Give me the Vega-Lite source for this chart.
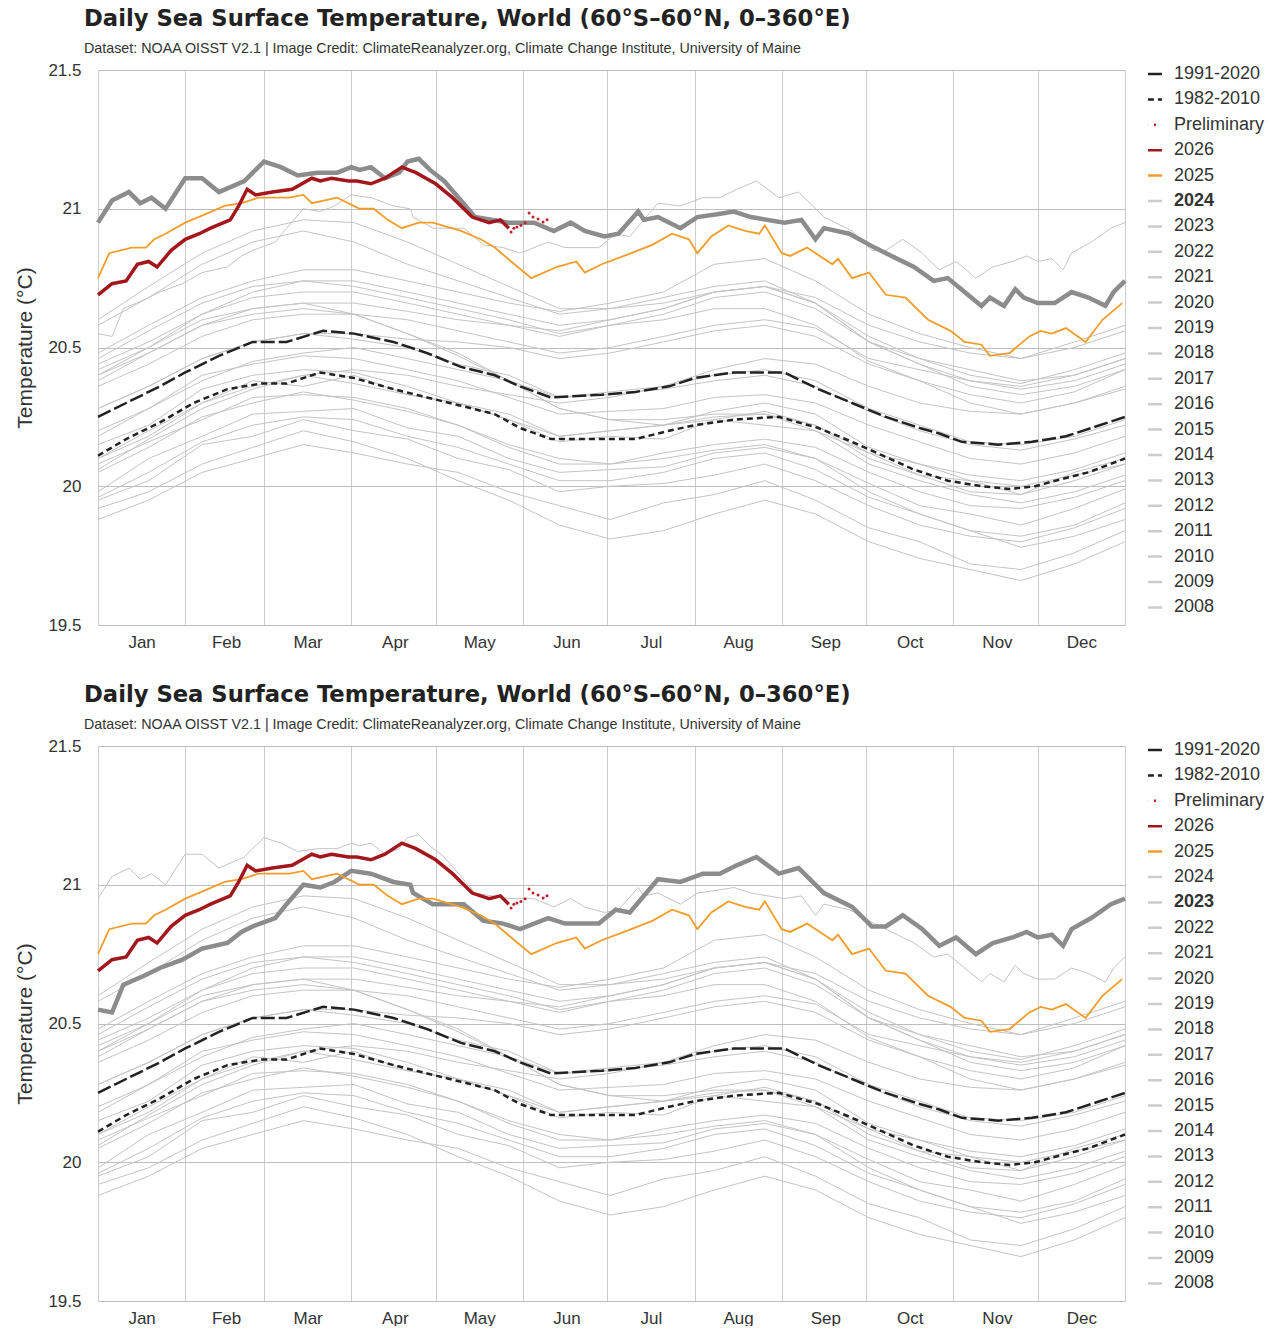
{
"$schema": "https://vega.github.io/schema/vega-lite/v6.json",
"padding": {"left": 14, "top": 8, "right": 0, "bottom": 0},
"background": "white",
"config": {"view": {"stroke": null}, "font": "Liberation Sans"},
"datasets": {
"sst": [
{"s":"1982","d":0,"t":19.88},{"s":"1982","d":18,"t":19.95},{"s":"1982","d":37,"t":20.05},{"s":"1982","d":55,"t":20.10},{"s":"1982","d":73,"t":20.15},{"s":"1982","d":91,"t":20.12},{"s":"1982","d":110,"t":20.08},{"s":"1982","d":128,"t":20.05},{"s":"1982","d":146,"t":19.98},{"s":"1982","d":164,"t":19.93},{"s":"1982","d":182,"t":19.88},{"s":"1982","d":201,"t":19.94},{"s":"1982","d":219,"t":19.97},{"s":"1982","d":237,"t":20.02},{"s":"1982","d":255,"t":19.95},{"s":"1982","d":274,"t":19.85},{"s":"1982","d":292,"t":19.80},{"s":"1982","d":310,"t":19.72},{"s":"1982","d":328,"t":19.70},{"s":"1982","d":347,"t":19.76},{"s":"1982","d":365,"t":19.84},
{"s":"1984","d":0,"t":19.95},{"s":"1984","d":18,"t":20.02},{"s":"1984","d":37,"t":20.15},{"s":"1984","d":55,"t":20.18},{"s":"1984","d":73,"t":20.24},{"s":"1984","d":91,"t":20.20},{"s":"1984","d":110,"t":20.17},{"s":"1984","d":128,"t":20.10},{"s":"1984","d":146,"t":20.06},{"s":"1984","d":164,"t":19.98},{"s":"1984","d":182,"t":20.00},{"s":"1984","d":201,"t":20.01},{"s":"1984","d":219,"t":20.04},{"s":"1984","d":237,"t":20.08},{"s":"1984","d":255,"t":20.02},{"s":"1984","d":274,"t":19.93},{"s":"1984","d":292,"t":19.86},{"s":"1984","d":310,"t":19.82},{"s":"1984","d":328,"t":19.80},{"s":"1984","d":347,"t":19.85},{"s":"1984","d":365,"t":19.92},
{"s":"1985","d":0,"t":19.92},{"s":"1985","d":18,"t":19.98},{"s":"1985","d":37,"t":20.08},{"s":"1985","d":55,"t":20.14},{"s":"1985","d":73,"t":20.20},{"s":"1985","d":91,"t":20.16},{"s":"1985","d":110,"t":20.10},{"s":"1985","d":128,"t":20.02},{"s":"1985","d":146,"t":19.95},{"s":"1985","d":164,"t":19.86},{"s":"1985","d":182,"t":19.81},{"s":"1985","d":201,"t":19.84},{"s":"1985","d":219,"t":19.90},{"s":"1985","d":237,"t":19.95},{"s":"1985","d":255,"t":19.90},{"s":"1985","d":274,"t":19.80},{"s":"1985","d":292,"t":19.74},{"s":"1985","d":310,"t":19.70},{"s":"1985","d":328,"t":19.66},{"s":"1985","d":347,"t":19.72},{"s":"1985","d":365,"t":19.80},
{"s":"1986","d":0,"t":19.98},{"s":"1986","d":18,"t":20.10},{"s":"1986","d":37,"t":20.18},{"s":"1986","d":55,"t":20.26},{"s":"1986","d":73,"t":20.27},{"s":"1986","d":91,"t":20.28},{"s":"1986","d":110,"t":20.21},{"s":"1986","d":128,"t":20.18},{"s":"1986","d":146,"t":20.10},{"s":"1986","d":164,"t":20.05},{"s":"1986","d":182,"t":20.06},{"s":"1986","d":201,"t":20.07},{"s":"1986","d":219,"t":20.12},{"s":"1986","d":237,"t":20.14},{"s":"1986","d":255,"t":20.10},{"s":"1986","d":274,"t":20.01},{"s":"1986","d":292,"t":19.93},{"s":"1986","d":310,"t":19.90},{"s":"1986","d":328,"t":19.86},{"s":"1986","d":347,"t":19.92},{"s":"1986","d":365,"t":19.99},
{"s":"1988","d":0,"t":20.05},{"s":"1988","d":18,"t":20.14},{"s":"1988","d":37,"t":20.25},{"s":"1988","d":55,"t":20.30},{"s":"1988","d":73,"t":20.34},{"s":"1988","d":91,"t":20.31},{"s":"1988","d":110,"t":20.27},{"s":"1988","d":128,"t":20.22},{"s":"1988","d":146,"t":20.14},{"s":"1988","d":164,"t":20.08},{"s":"1988","d":182,"t":20.08},{"s":"1988","d":201,"t":20.10},{"s":"1988","d":219,"t":20.13},{"s":"1988","d":237,"t":20.15},{"s":"1988","d":255,"t":20.10},{"s":"1988","d":274,"t":19.98},{"s":"1988","d":292,"t":19.90},{"s":"1988","d":310,"t":19.84},{"s":"1988","d":328,"t":19.78},{"s":"1988","d":347,"t":19.82},{"s":"1988","d":365,"t":19.88},
{"s":"1989","d":0,"t":19.96},{"s":"1989","d":18,"t":20.05},{"s":"1989","d":37,"t":20.16},{"s":"1989","d":55,"t":20.22},{"s":"1989","d":73,"t":20.25},{"s":"1989","d":91,"t":20.24},{"s":"1989","d":110,"t":20.18},{"s":"1989","d":128,"t":20.14},{"s":"1989","d":146,"t":20.08},{"s":"1989","d":164,"t":20.02},{"s":"1989","d":182,"t":20.02},{"s":"1989","d":201,"t":20.05},{"s":"1989","d":219,"t":20.10},{"s":"1989","d":237,"t":20.12},{"s":"1989","d":255,"t":20.06},{"s":"1989","d":274,"t":19.96},{"s":"1989","d":292,"t":19.90},{"s":"1989","d":310,"t":19.84},{"s":"1989","d":328,"t":19.82},{"s":"1989","d":347,"t":19.86},{"s":"1989","d":365,"t":19.94},
{"s":"1990","d":0,"t":20.10},{"s":"1990","d":18,"t":20.20},{"s":"1990","d":37,"t":20.30},{"s":"1990","d":55,"t":20.38},{"s":"1990","d":73,"t":20.36},{"s":"1990","d":91,"t":20.40},{"s":"1990","d":110,"t":20.33},{"s":"1990","d":128,"t":20.30},{"s":"1990","d":146,"t":20.24},{"s":"1990","d":164,"t":20.16},{"s":"1990","d":182,"t":20.18},{"s":"1990","d":201,"t":20.17},{"s":"1990","d":219,"t":20.24},{"s":"1990","d":237,"t":20.22},{"s":"1990","d":255,"t":20.20},{"s":"1990","d":274,"t":20.12},{"s":"1990","d":292,"t":20.04},{"s":"1990","d":310,"t":20.02},{"s":"1990","d":328,"t":19.97},{"s":"1990","d":347,"t":20.05},{"s":"1990","d":365,"t":20.10},
{"s":"1992","d":0,"t":20.08},{"s":"1992","d":18,"t":20.16},{"s":"1992","d":37,"t":20.24},{"s":"1992","d":55,"t":20.32},{"s":"1992","d":73,"t":20.33},{"s":"1992","d":91,"t":20.32},{"s":"1992","d":110,"t":20.28},{"s":"1992","d":128,"t":20.22},{"s":"1992","d":146,"t":20.15},{"s":"1992","d":164,"t":20.10},{"s":"1992","d":182,"t":20.08},{"s":"1992","d":201,"t":20.12},{"s":"1992","d":219,"t":20.15},{"s":"1992","d":237,"t":20.17},{"s":"1992","d":255,"t":20.14},{"s":"1992","d":274,"t":20.05},{"s":"1992","d":292,"t":19.98},{"s":"1992","d":310,"t":19.93},{"s":"1992","d":328,"t":19.92},{"s":"1992","d":347,"t":19.96},{"s":"1992","d":365,"t":20.02},
{"s":"1995","d":0,"t":20.15},{"s":"1995","d":18,"t":20.22},{"s":"1995","d":37,"t":20.35},{"s":"1995","d":55,"t":20.40},{"s":"1995","d":73,"t":20.42},{"s":"1995","d":91,"t":20.41},{"s":"1995","d":110,"t":20.36},{"s":"1995","d":128,"t":20.30},{"s":"1995","d":146,"t":20.26},{"s":"1995","d":164,"t":20.18},{"s":"1995","d":182,"t":20.20},{"s":"1995","d":201,"t":20.22},{"s":"1995","d":219,"t":20.24},{"s":"1995","d":237,"t":20.27},{"s":"1995","d":255,"t":20.22},{"s":"1995","d":274,"t":20.12},{"s":"1995","d":292,"t":20.08},{"s":"1995","d":310,"t":20.02},{"s":"1995","d":328,"t":20.00},{"s":"1995","d":347,"t":20.04},{"s":"1995","d":365,"t":20.08},
{"s":"1997","d":0,"t":20.10},{"s":"1997","d":18,"t":20.18},{"s":"1997","d":37,"t":20.30},{"s":"1997","d":55,"t":20.36},{"s":"1997","d":73,"t":20.40},{"s":"1997","d":91,"t":20.42},{"s":"1997","d":110,"t":20.40},{"s":"1997","d":128,"t":20.36},{"s":"1997","d":146,"t":20.33},{"s":"1997","d":164,"t":20.30},{"s":"1997","d":182,"t":20.32},{"s":"1997","d":201,"t":20.36},{"s":"1997","d":219,"t":20.42},{"s":"1997","d":237,"t":20.46},{"s":"1997","d":255,"t":20.44},{"s":"1997","d":274,"t":20.36},{"s":"1997","d":292,"t":20.30},{"s":"1997","d":310,"t":20.27},{"s":"1997","d":328,"t":20.26},{"s":"1997","d":347,"t":20.30},{"s":"1997","d":365,"t":20.35},
{"s":"1998","d":0,"t":20.38},{"s":"1998","d":18,"t":20.48},{"s":"1998","d":37,"t":20.58},{"s":"1998","d":55,"t":20.62},{"s":"1998","d":73,"t":20.64},{"s":"1998","d":91,"t":20.62},{"s":"1998","d":110,"t":20.55},{"s":"1998","d":128,"t":20.47},{"s":"1998","d":146,"t":20.38},{"s":"1998","d":164,"t":20.28},{"s":"1998","d":182,"t":20.24},{"s":"1998","d":201,"t":20.24},{"s":"1998","d":219,"t":20.26},{"s":"1998","d":237,"t":20.26},{"s":"1998","d":255,"t":20.20},{"s":"1998","d":274,"t":20.08},{"s":"1998","d":292,"t":20.02},{"s":"1998","d":310,"t":19.97},{"s":"1998","d":328,"t":19.94},{"s":"1998","d":347,"t":19.98},{"s":"1998","d":365,"t":20.04},
{"s":"2001","d":0,"t":20.18},{"s":"2001","d":18,"t":20.28},{"s":"2001","d":37,"t":20.40},{"s":"2001","d":55,"t":20.44},{"s":"2001","d":73,"t":20.47},{"s":"2001","d":91,"t":20.46},{"s":"2001","d":110,"t":20.42},{"s":"2001","d":128,"t":20.38},{"s":"2001","d":146,"t":20.32},{"s":"2001","d":164,"t":20.26},{"s":"2001","d":182,"t":20.27},{"s":"2001","d":201,"t":20.28},{"s":"2001","d":219,"t":20.32},{"s":"2001","d":237,"t":20.33},{"s":"2001","d":255,"t":20.30},{"s":"2001","d":274,"t":20.22},{"s":"2001","d":292,"t":20.16},{"s":"2001","d":310,"t":20.10},{"s":"2001","d":328,"t":20.08},{"s":"2001","d":347,"t":20.12},{"s":"2001","d":365,"t":20.18},
{"s":"2005","d":0,"t":20.28},{"s":"2005","d":18,"t":20.36},{"s":"2005","d":37,"t":20.46},{"s":"2005","d":55,"t":20.52},{"s":"2005","d":73,"t":20.55},{"s":"2005","d":91,"t":20.53},{"s":"2005","d":110,"t":20.50},{"s":"2005","d":128,"t":20.44},{"s":"2005","d":146,"t":20.40},{"s":"2005","d":164,"t":20.32},{"s":"2005","d":182,"t":20.33},{"s":"2005","d":201,"t":20.35},{"s":"2005","d":219,"t":20.38},{"s":"2005","d":237,"t":20.40},{"s":"2005","d":255,"t":20.36},{"s":"2005","d":274,"t":20.27},{"s":"2005","d":292,"t":20.20},{"s":"2005","d":310,"t":20.15},{"s":"2005","d":328,"t":20.13},{"s":"2005","d":347,"t":20.17},{"s":"2005","d":365,"t":20.22},
{"s":"2008","d":0,"t":20.06},{"s":"2008","d":18,"t":20.17},{"s":"2008","d":37,"t":20.28},{"s":"2008","d":55,"t":20.35},{"s":"2008","d":73,"t":20.40},{"s":"2008","d":91,"t":20.37},{"s":"2008","d":110,"t":20.33},{"s":"2008","d":128,"t":20.30},{"s":"2008","d":146,"t":20.24},{"s":"2008","d":164,"t":20.18},{"s":"2008","d":182,"t":20.20},{"s":"2008","d":201,"t":20.22},{"s":"2008","d":219,"t":20.27},{"s":"2008","d":237,"t":20.30},{"s":"2008","d":255,"t":20.26},{"s":"2008","d":274,"t":20.14},{"s":"2008","d":292,"t":20.08},{"s":"2008","d":310,"t":20.04},{"s":"2008","d":328,"t":20.02},{"s":"2008","d":347,"t":20.06},{"s":"2008","d":365,"t":20.12},
{"s":"2010","d":0,"t":20.42},{"s":"2010","d":18,"t":20.50},{"s":"2010","d":37,"t":20.60},{"s":"2010","d":55,"t":20.64},{"s":"2010","d":73,"t":20.66},{"s":"2010","d":91,"t":20.62},{"s":"2010","d":110,"t":20.55},{"s":"2010","d":128,"t":20.48},{"s":"2010","d":146,"t":20.38},{"s":"2010","d":164,"t":20.28},{"s":"2010","d":182,"t":20.24},{"s":"2010","d":201,"t":20.22},{"s":"2010","d":219,"t":20.25},{"s":"2010","d":237,"t":20.26},{"s":"2010","d":255,"t":20.22},{"s":"2010","d":274,"t":20.10},{"s":"2010","d":292,"t":20.04},{"s":"2010","d":310,"t":19.98},{"s":"2010","d":328,"t":19.97},{"s":"2010","d":347,"t":20.02},{"s":"2010","d":365,"t":20.08},
{"s":"2012","d":0,"t":20.20},{"s":"2012","d":18,"t":20.28},{"s":"2012","d":37,"t":20.38},{"s":"2012","d":55,"t":20.45},{"s":"2012","d":73,"t":20.48},{"s":"2012","d":91,"t":20.50},{"s":"2012","d":110,"t":20.46},{"s":"2012","d":128,"t":20.42},{"s":"2012","d":146,"t":20.38},{"s":"2012","d":164,"t":20.32},{"s":"2012","d":182,"t":20.34},{"s":"2012","d":201,"t":20.36},{"s":"2012","d":219,"t":20.40},{"s":"2012","d":237,"t":20.42},{"s":"2012","d":255,"t":20.38},{"s":"2012","d":274,"t":20.28},{"s":"2012","d":292,"t":20.22},{"s":"2012","d":310,"t":20.16},{"s":"2012","d":328,"t":20.15},{"s":"2012","d":347,"t":20.18},{"s":"2012","d":365,"t":20.24},
{"s":"2014","d":0,"t":20.28},{"s":"2014","d":18,"t":20.36},{"s":"2014","d":37,"t":20.46},{"s":"2014","d":55,"t":20.52},{"s":"2014","d":73,"t":20.55},{"s":"2014","d":91,"t":20.55},{"s":"2014","d":110,"t":20.53},{"s":"2014","d":128,"t":20.52},{"s":"2014","d":146,"t":20.50},{"s":"2014","d":164,"t":20.46},{"s":"2014","d":182,"t":20.48},{"s":"2014","d":201,"t":20.52},{"s":"2014","d":219,"t":20.56},{"s":"2014","d":237,"t":20.58},{"s":"2014","d":255,"t":20.54},{"s":"2014","d":274,"t":20.44},{"s":"2014","d":292,"t":20.38},{"s":"2014","d":310,"t":20.33},{"s":"2014","d":328,"t":20.30},{"s":"2014","d":347,"t":20.34},{"s":"2014","d":365,"t":20.42},
{"s":"2015","d":0,"t":20.40},{"s":"2015","d":18,"t":20.48},{"s":"2015","d":37,"t":20.58},{"s":"2015","d":55,"t":20.64},{"s":"2015","d":73,"t":20.66},{"s":"2015","d":91,"t":20.66},{"s":"2015","d":110,"t":20.63},{"s":"2015","d":128,"t":20.60},{"s":"2015","d":146,"t":20.58},{"s":"2015","d":164,"t":20.56},{"s":"2015","d":182,"t":20.60},{"s":"2015","d":201,"t":20.64},{"s":"2015","d":219,"t":20.70},{"s":"2015","d":237,"t":20.72},{"s":"2015","d":255,"t":20.68},{"s":"2015","d":274,"t":20.58},{"s":"2015","d":292,"t":20.52},{"s":"2015","d":310,"t":20.48},{"s":"2015","d":328,"t":20.46},{"s":"2015","d":347,"t":20.52},{"s":"2015","d":365,"t":20.58},
{"s":"2016","d":0,"t":20.60},{"s":"2016","d":18,"t":20.72},{"s":"2016","d":37,"t":20.84},{"s":"2016","d":55,"t":20.92},{"s":"2016","d":73,"t":20.96},{"s":"2016","d":91,"t":20.95},{"s":"2016","d":110,"t":20.88},{"s":"2016","d":128,"t":20.80},{"s":"2016","d":146,"t":20.72},{"s":"2016","d":164,"t":20.64},{"s":"2016","d":182,"t":20.64},{"s":"2016","d":201,"t":20.66},{"s":"2016","d":219,"t":20.70},{"s":"2016","d":237,"t":20.72},{"s":"2016","d":255,"t":20.66},{"s":"2016","d":274,"t":20.52},{"s":"2016","d":292,"t":20.44},{"s":"2016","d":310,"t":20.36},{"s":"2016","d":328,"t":20.33},{"s":"2016","d":347,"t":20.36},{"s":"2016","d":365,"t":20.42},
{"s":"2017","d":0,"t":20.44},{"s":"2017","d":18,"t":20.52},{"s":"2017","d":37,"t":20.62},{"s":"2017","d":55,"t":20.70},{"s":"2017","d":73,"t":20.74},{"s":"2017","d":91,"t":20.72},{"s":"2017","d":110,"t":20.68},{"s":"2017","d":128,"t":20.64},{"s":"2017","d":146,"t":20.60},{"s":"2017","d":164,"t":20.55},{"s":"2017","d":182,"t":20.58},{"s":"2017","d":201,"t":20.60},{"s":"2017","d":219,"t":20.64},{"s":"2017","d":237,"t":20.64},{"s":"2017","d":255,"t":20.58},{"s":"2017","d":274,"t":20.45},{"s":"2017","d":292,"t":20.38},{"s":"2017","d":310,"t":20.30},{"s":"2017","d":328,"t":20.26},{"s":"2017","d":347,"t":20.30},{"s":"2017","d":365,"t":20.36},
{"s":"2018","d":0,"t":20.36},{"s":"2018","d":18,"t":20.44},{"s":"2018","d":37,"t":20.54},{"s":"2018","d":55,"t":20.60},{"s":"2018","d":73,"t":20.62},{"s":"2018","d":91,"t":20.62},{"s":"2018","d":110,"t":20.60},{"s":"2018","d":128,"t":20.56},{"s":"2018","d":146,"t":20.52},{"s":"2018","d":164,"t":20.48},{"s":"2018","d":182,"t":20.50},{"s":"2018","d":201,"t":20.54},{"s":"2018","d":219,"t":20.58},{"s":"2018","d":237,"t":20.60},{"s":"2018","d":255,"t":20.57},{"s":"2018","d":274,"t":20.46},{"s":"2018","d":292,"t":20.42},{"s":"2018","d":310,"t":20.38},{"s":"2018","d":328,"t":20.36},{"s":"2018","d":347,"t":20.40},{"s":"2018","d":365,"t":20.46},
{"s":"2019","d":0,"t":20.48},{"s":"2019","d":18,"t":20.58},{"s":"2019","d":37,"t":20.68},{"s":"2019","d":55,"t":20.74},{"s":"2019","d":73,"t":20.78},{"s":"2019","d":91,"t":20.78},{"s":"2019","d":110,"t":20.74},{"s":"2019","d":128,"t":20.70},{"s":"2019","d":146,"t":20.66},{"s":"2019","d":164,"t":20.63},{"s":"2019","d":182,"t":20.66},{"s":"2019","d":201,"t":20.70},{"s":"2019","d":219,"t":20.80},{"s":"2019","d":237,"t":20.82},{"s":"2019","d":255,"t":20.74},{"s":"2019","d":274,"t":20.62},{"s":"2019","d":292,"t":20.55},{"s":"2019","d":310,"t":20.50},{"s":"2019","d":328,"t":20.46},{"s":"2019","d":347,"t":20.50},{"s":"2019","d":365,"t":20.56},
{"s":"2020","d":0,"t":20.58},{"s":"2020","d":18,"t":20.68},{"s":"2020","d":37,"t":20.80},{"s":"2020","d":55,"t":20.88},{"s":"2020","d":73,"t":20.92},{"s":"2020","d":91,"t":20.88},{"s":"2020","d":110,"t":20.80},{"s":"2020","d":128,"t":20.74},{"s":"2020","d":146,"t":20.68},{"s":"2020","d":164,"t":20.62},{"s":"2020","d":182,"t":20.64},{"s":"2020","d":201,"t":20.68},{"s":"2020","d":219,"t":20.72},{"s":"2020","d":237,"t":20.74},{"s":"2020","d":255,"t":20.66},{"s":"2020","d":274,"t":20.52},{"s":"2020","d":292,"t":20.44},{"s":"2020","d":310,"t":20.38},{"s":"2020","d":328,"t":20.35},{"s":"2020","d":347,"t":20.38},{"s":"2020","d":365,"t":20.44},
{"s":"2021","d":0,"t":20.40},{"s":"2021","d":18,"t":20.50},{"s":"2021","d":37,"t":20.62},{"s":"2021","d":55,"t":20.68},{"s":"2021","d":73,"t":20.70},{"s":"2021","d":91,"t":20.70},{"s":"2021","d":110,"t":20.66},{"s":"2021","d":128,"t":20.62},{"s":"2021","d":146,"t":20.58},{"s":"2021","d":164,"t":20.54},{"s":"2021","d":182,"t":20.58},{"s":"2021","d":201,"t":20.62},{"s":"2021","d":219,"t":20.68},{"s":"2021","d":237,"t":20.70},{"s":"2021","d":255,"t":20.64},{"s":"2021","d":274,"t":20.52},{"s":"2021","d":292,"t":20.46},{"s":"2021","d":310,"t":20.40},{"s":"2021","d":328,"t":20.37},{"s":"2021","d":347,"t":20.42},{"s":"2021","d":365,"t":20.48},
{"s":"2022","d":0,"t":20.46},{"s":"2022","d":18,"t":20.56},{"s":"2022","d":37,"t":20.66},{"s":"2022","d":55,"t":20.72},{"s":"2022","d":73,"t":20.74},{"s":"2022","d":91,"t":20.74},{"s":"2022","d":110,"t":20.70},{"s":"2022","d":128,"t":20.66},{"s":"2022","d":146,"t":20.62},{"s":"2022","d":164,"t":20.58},{"s":"2022","d":182,"t":20.60},{"s":"2022","d":201,"t":20.64},{"s":"2022","d":219,"t":20.70},{"s":"2022","d":237,"t":20.72},{"s":"2022","d":255,"t":20.66},{"s":"2022","d":274,"t":20.54},{"s":"2022","d":292,"t":20.46},{"s":"2022","d":310,"t":20.42},{"s":"2022","d":328,"t":20.38},{"s":"2022","d":347,"t":20.40},{"s":"2022","d":365,"t":20.46},
{"s":"2023","d":0,"t":20.55},{"s":"2023","d":5,"t":20.54},{"s":"2023","d":9,"t":20.64},{"s":"2023","d":16,"t":20.67},{"s":"2023","d":22,"t":20.70},{"s":"2023","d":30,"t":20.73},{"s":"2023","d":37,"t":20.77},{"s":"2023","d":46,"t":20.79},{"s":"2023","d":51,"t":20.83},{"s":"2023","d":55,"t":20.85},{"s":"2023","d":63,"t":20.88},{"s":"2023","d":67,"t":20.93},{"s":"2023","d":73,"t":21.00},{"s":"2023","d":79,"t":20.99},{"s":"2023","d":84,"t":21.01},{"s":"2023","d":90,"t":21.05},{"s":"2023","d":97,"t":21.04},{"s":"2023","d":105,"t":21.01},{"s":"2023","d":111,"t":21.00},{"s":"2023","d":112,"t":20.97},{"s":"2023","d":119,"t":20.93},{"s":"2023","d":130,"t":20.93},{"s":"2023","d":137,"t":20.87},{"s":"2023","d":144,"t":20.86},{"s":"2023","d":150,"t":20.84},{"s":"2023","d":160,"t":20.88},{"s":"2023","d":166,"t":20.86},{"s":"2023","d":178,"t":20.86},{"s":"2023","d":184,"t":20.91},{"s":"2023","d":189,"t":20.90},{"s":"2023","d":199,"t":21.02},{"s":"2023","d":207,"t":21.01},{"s":"2023","d":215,"t":21.04},{"s":"2023","d":221,"t":21.04},{"s":"2023","d":227,"t":21.07},{"s":"2023","d":234,"t":21.10},{"s":"2023","d":242,"t":21.04},{"s":"2023","d":249,"t":21.06},{"s":"2023","d":258,"t":20.97},{"s":"2023","d":268,"t":20.92},{"s":"2023","d":275,"t":20.85},{"s":"2023","d":280,"t":20.85},{"s":"2023","d":286,"t":20.89},{"s":"2023","d":293,"t":20.84},{"s":"2023","d":299,"t":20.78},{"s":"2023","d":305,"t":20.81},{"s":"2023","d":312,"t":20.75},{"s":"2023","d":318,"t":20.79},{"s":"2023","d":325,"t":20.81},{"s":"2023","d":330,"t":20.83},{"s":"2023","d":334,"t":20.81},{"s":"2023","d":339,"t":20.82},{"s":"2023","d":343,"t":20.78},{"s":"2023","d":346,"t":20.84},{"s":"2023","d":353,"t":20.88},{"s":"2023","d":360,"t":20.93},{"s":"2023","d":365,"t":20.95},
{"s":"2024","d":0,"t":20.95},{"s":"2024","d":5,"t":21.03},{"s":"2024","d":11,"t":21.06},{"s":"2024","d":15,"t":21.02},{"s":"2024","d":19,"t":21.04},{"s":"2024","d":24,"t":21.00},{"s":"2024","d":31,"t":21.11},{"s":"2024","d":37,"t":21.11},{"s":"2024","d":43,"t":21.06},{"s":"2024","d":52,"t":21.10},{"s":"2024","d":59,"t":21.17},{"s":"2024","d":65,"t":21.15},{"s":"2024","d":71,"t":21.12},{"s":"2024","d":78,"t":21.13},{"s":"2024","d":85,"t":21.13},{"s":"2024","d":90,"t":21.15},{"s":"2024","d":93,"t":21.14},{"s":"2024","d":97,"t":21.15},{"s":"2024","d":102,"t":21.11},{"s":"2024","d":107,"t":21.13},{"s":"2024","d":110,"t":21.17},{"s":"2024","d":114,"t":21.18},{"s":"2024","d":118,"t":21.14},{"s":"2024","d":123,"t":21.10},{"s":"2024","d":129,"t":21.03},{"s":"2024","d":134,"t":20.97},{"s":"2024","d":146,"t":20.95},{"s":"2024","d":155,"t":20.95},{"s":"2024","d":162,"t":20.92},{"s":"2024","d":168,"t":20.95},{"s":"2024","d":173,"t":20.92},{"s":"2024","d":180,"t":20.90},{"s":"2024","d":185,"t":20.91},{"s":"2024","d":192,"t":20.99},{"s":"2024","d":194,"t":20.96},{"s":"2024","d":199,"t":20.97},{"s":"2024","d":207,"t":20.93},{"s":"2024","d":213,"t":20.97},{"s":"2024","d":220,"t":20.98},{"s":"2024","d":226,"t":20.99},{"s":"2024","d":232,"t":20.97},{"s":"2024","d":244,"t":20.95},{"s":"2024","d":250,"t":20.96},{"s":"2024","d":255,"t":20.89},{"s":"2024","d":258,"t":20.93},{"s":"2024","d":267,"t":20.91},{"s":"2024","d":276,"t":20.86},{"s":"2024","d":282,"t":20.83},{"s":"2024","d":290,"t":20.79},{"s":"2024","d":297,"t":20.74},{"s":"2024","d":302,"t":20.75},{"s":"2024","d":308,"t":20.70},{"s":"2024","d":314,"t":20.65},{"s":"2024","d":317,"t":20.68},{"s":"2024","d":322,"t":20.65},{"s":"2024","d":326,"t":20.71},{"s":"2024","d":329,"t":20.68},{"s":"2024","d":334,"t":20.66},{"s":"2024","d":340,"t":20.66},{"s":"2024","d":346,"t":20.70},{"s":"2024","d":352,"t":20.68},{"s":"2024","d":358,"t":20.65},{"s":"2024","d":361,"t":20.70},{"s":"2024","d":365,"t":20.74},
{"s":"1991-2020","d":0,"t":20.25},{"s":"1991-2020","d":10,"t":20.30},{"s":"1991-2020","d":22,"t":20.36},{"s":"1991-2020","d":31,"t":20.41},{"s":"1991-2020","d":43,"t":20.47},{"s":"1991-2020","d":55,"t":20.52},{"s":"1991-2020","d":67,"t":20.52},{"s":"1991-2020","d":80,"t":20.56},{"s":"1991-2020","d":91,"t":20.55},{"s":"1991-2020","d":105,"t":20.52},{"s":"1991-2020","d":117,"t":20.48},{"s":"1991-2020","d":129,"t":20.43},{"s":"1991-2020","d":141,"t":20.40},{"s":"1991-2020","d":150,"t":20.36},{"s":"1991-2020","d":161,"t":20.32},{"s":"1991-2020","d":179,"t":20.33},{"s":"1991-2020","d":191,"t":20.34},{"s":"1991-2020","d":203,"t":20.36},{"s":"1991-2020","d":212,"t":20.39},{"s":"1991-2020","d":226,"t":20.41},{"s":"1991-2020","d":244,"t":20.41},{"s":"1991-2020","d":256,"t":20.35},{"s":"1991-2020","d":268,"t":20.30},{"s":"1991-2020","d":280,"t":20.25},{"s":"1991-2020","d":292,"t":20.21},{"s":"1991-2020","d":299,"t":20.19},{"s":"1991-2020","d":307,"t":20.16},{"s":"1991-2020","d":320,"t":20.15},{"s":"1991-2020","d":332,"t":20.16},{"s":"1991-2020","d":344,"t":20.18},{"s":"1991-2020","d":356,"t":20.22},{"s":"1991-2020","d":365,"t":20.25},
{"s":"1982-2010","d":0,"t":20.11},{"s":"1982-2010","d":10,"t":20.17},{"s":"1982-2010","d":22,"t":20.23},{"s":"1982-2010","d":34,"t":20.30},{"s":"1982-2010","d":46,"t":20.35},{"s":"1982-2010","d":58,"t":20.37},{"s":"1982-2010","d":67,"t":20.37},{"s":"1982-2010","d":79,"t":20.41},{"s":"1982-2010","d":91,"t":20.39},{"s":"1982-2010","d":105,"t":20.35},{"s":"1982-2010","d":117,"t":20.32},{"s":"1982-2010","d":129,"t":20.29},{"s":"1982-2010","d":141,"t":20.26},{"s":"1982-2010","d":150,"t":20.21},{"s":"1982-2010","d":161,"t":20.17},{"s":"1982-2010","d":179,"t":20.17},{"s":"1982-2010","d":191,"t":20.17},{"s":"1982-2010","d":203,"t":20.20},{"s":"1982-2010","d":212,"t":20.22},{"s":"1982-2010","d":226,"t":20.24},{"s":"1982-2010","d":242,"t":20.25},{"s":"1982-2010","d":256,"t":20.21},{"s":"1982-2010","d":268,"t":20.16},{"s":"1982-2010","d":279,"t":20.11},{"s":"1982-2010","d":290,"t":20.06},{"s":"1982-2010","d":302,"t":20.02},{"s":"1982-2010","d":314,"t":20.00},{"s":"1982-2010","d":324,"t":19.99},{"s":"1982-2010","d":333,"t":20.00},{"s":"1982-2010","d":344,"t":20.03},{"s":"1982-2010","d":352,"t":20.05},{"s":"1982-2010","d":365,"t":20.10},
{"s":"2025","d":0,"t":20.75},{"s":"2025","d":4,"t":20.84},{"s":"2025","d":12,"t":20.86},{"s":"2025","d":17,"t":20.86},{"s":"2025","d":20,"t":20.89},{"s":"2025","d":24,"t":20.91},{"s":"2025","d":31,"t":20.95},{"s":"2025","d":38,"t":20.98},{"s":"2025","d":45,"t":21.01},{"s":"2025","d":51,"t":21.02},{"s":"2025","d":57,"t":21.04},{"s":"2025","d":63,"t":21.04},{"s":"2025","d":68,"t":21.04},{"s":"2025","d":73,"t":21.05},{"s":"2025","d":76,"t":21.02},{"s":"2025","d":85,"t":21.04},{"s":"2025","d":93,"t":21.00},{"s":"2025","d":98,"t":21.00},{"s":"2025","d":103,"t":20.96},{"s":"2025","d":108,"t":20.93},{"s":"2025","d":114,"t":20.95},{"s":"2025","d":119,"t":20.95},{"s":"2025","d":129,"t":20.92},{"s":"2025","d":136,"t":20.89},{"s":"2025","d":141,"t":20.86},{"s":"2025","d":148,"t":20.80},{"s":"2025","d":154,"t":20.75},{"s":"2025","d":163,"t":20.79},{"s":"2025","d":170,"t":20.81},{"s":"2025","d":173,"t":20.77},{"s":"2025","d":179,"t":20.80},{"s":"2025","d":187,"t":20.83},{"s":"2025","d":197,"t":20.87},{"s":"2025","d":204,"t":20.91},{"s":"2025","d":210,"t":20.89},{"s":"2025","d":213,"t":20.84},{"s":"2025","d":218,"t":20.90},{"s":"2025","d":224,"t":20.94},{"s":"2025","d":230,"t":20.92},{"s":"2025","d":235,"t":20.91},{"s":"2025","d":237,"t":20.94},{"s":"2025","d":243,"t":20.84},{"s":"2025","d":246,"t":20.83},{"s":"2025","d":252,"t":20.86},{"s":"2025","d":261,"t":20.80},{"s":"2025","d":263,"t":20.82},{"s":"2025","d":268,"t":20.75},{"s":"2025","d":274,"t":20.77},{"s":"2025","d":280,"t":20.69},{"s":"2025","d":287,"t":20.68},{"s":"2025","d":295,"t":20.60},{"s":"2025","d":303,"t":20.56},{"s":"2025","d":308,"t":20.52},{"s":"2025","d":314,"t":20.51},{"s":"2025","d":317,"t":20.47},{"s":"2025","d":324,"t":20.48},{"s":"2025","d":331,"t":20.54},{"s":"2025","d":335,"t":20.56},{"s":"2025","d":339,"t":20.55},{"s":"2025","d":344,"t":20.57},{"s":"2025","d":351,"t":20.52},{"s":"2025","d":357,"t":20.60},{"s":"2025","d":364,"t":20.66},
{"s":"2026","d":0,"t":20.69},{"s":"2026","d":5,"t":20.73},{"s":"2026","d":10,"t":20.74},{"s":"2026","d":14,"t":20.80},{"s":"2026","d":18,"t":20.81},{"s":"2026","d":21,"t":20.79},{"s":"2026","d":26,"t":20.85},{"s":"2026","d":31,"t":20.89},{"s":"2026","d":36,"t":20.91},{"s":"2026","d":40,"t":20.93},{"s":"2026","d":47,"t":20.96},{"s":"2026","d":50,"t":21.01},{"s":"2026","d":53,"t":21.07},{"s":"2026","d":56,"t":21.05},{"s":"2026","d":62,"t":21.06},{"s":"2026","d":69,"t":21.07},{"s":"2026","d":76,"t":21.11},{"s":"2026","d":79,"t":21.10},{"s":"2026","d":83,"t":21.11},{"s":"2026","d":89,"t":21.10},{"s":"2026","d":92,"t":21.10},{"s":"2026","d":97,"t":21.09},{"s":"2026","d":102,"t":21.11},{"s":"2026","d":108,"t":21.15},{"s":"2026","d":113,"t":21.13},{"s":"2026","d":120,"t":21.09},{"s":"2026","d":126,"t":21.04},{"s":"2026","d":133,"t":20.97},{"s":"2026","d":139,"t":20.95},{"s":"2026","d":143,"t":20.96},{"s":"2026","d":146,"t":20.93},
{"s":"Preliminary","d":146.8,"t":20.916},{"s":"Preliminary","d":147.8,"t":20.93},{"s":"Preliminary","d":148.9,"t":20.934},{"s":"Preliminary","d":150.3,"t":20.94},{"s":"Preliminary","d":151.8,"t":20.95},{"s":"Preliminary","d":153.2,"t":20.985},{"s":"Preliminary","d":154.6,"t":20.97},{"s":"Preliminary","d":156.4,"t":20.963},{"s":"Preliminary","d":158.2,"t":20.952},{"s":"Preliminary","d":159.6,"t":20.96}
]
},
"data": {"name": "sst"},
"spacing": 34,
"resolve": {"scale": {"color": "independent", "strokeDash": "independent", "strokeWidth": "independent"}, "legend": {"color": "independent", "strokeDash": "independent", "strokeWidth": "independent"}},
"vconcat": [
{
"width": 1027, "height": 555,
"title": {"text": "Daily Sea Surface Temperature, World (60°S–60°N, 0–360°E)", "subtitle": "Dataset: NOAA OISST V2.1 | Image Credit: ClimateReanalyzer.org, Climate Change Institute, University of Maine", "anchor": "start", "frame": "group", "dx": -14, "font": "DejaVu Sans", "fontSize": 22.7, "fontWeight": "bold", "color": "#222222", "subtitleFont": "Liberation Sans", "subtitleFontSize": 14.3, "subtitleColor": "#333333", "subtitlePadding": 11, "offset": 5},
"encoding": {
  "x": {"field": "d", "type": "quantitative", "scale": {"domain": [0, 365], "nice": false, "zero": false},
        "axis": {"title": null, "values": [0,15.5,31,45.5,59,74.5,90,105.5,120,135.5,151,166.5,181,196.5,212,227.5,243,258.5,273,288.5,304,319.5,334,349.5,365],
                 "labelExpr": "datum.value % 1 == 0 ? '' : ['Jan','Feb','Mar','Apr','May','Jun','Jul','Aug','Sep','Oct','Nov','Dec'][floor(datum.value / 30.42)]",
                 "grid": true, "gridColor": "#cccccc", "gridOpacity": {"condition": {"test": "datum.value % 1 != 0", "value": 0}, "value": 1},
                 "ticks": false, "domain": false, "labelFontSize": 17, "labelFont": "Liberation Sans", "labelColor": "#333333", "labelPadding": 9, "labelOverlap": false, "labelFlush": false}},
  "y": {"field": "t", "type": "quantitative", "scale": {"domain": [19.5, 21.5], "nice": false, "zero": false},
        "axis": {"title": "Temperature (°C)", "values": [19.5,20,20.5,21,21.5], "format": "~g", "grid": true, "gridColor": "#bdbdbd", "ticks": false, "domain": false,
                 "labelFontSize": 17, "labelFont": "Liberation Sans", "labelColor": "#333333", "labelPadding": 17,
                 "titleFontSize": 21, "titleFont": "Liberation Sans", "titleFontWeight": "normal", "titleColor": "#333333", "titlePadding": 12}}
},
"layer": [
{"transform": [{"filter": "indexof(['1991-2020','1982-2010','2025','2026','Preliminary','2024'], datum.s) < 0"}],
 "mark": {"type": "line", "color": "#c4c4c4", "strokeWidth": 1},
 "encoding": {"detail": {"field": "s"}}},
{"transform": [{"filter": "datum.s == '1991-2020' || datum.s == '1982-2010'"}],
 "mark": {"type": "line"},
 "encoding": {
  "color": {"field": "s", "type": "nominal",
    "scale": {"domain": ["1991-2020","1982-2010","Preliminary","2026","2025","2024","2023","2022","2021","2020","2019","2018","2017","2016","2015","2014","2013","2012","2011","2010","2009","2008"],
              "range": ["#222222","#222222","#c0202a","#a3171c","#f39c2a","#cccccc","#cccccc","#cccccc","#cccccc","#cccccc","#cccccc","#cccccc","#cccccc","#cccccc","#cccccc","#cccccc","#cccccc","#cccccc","#cccccc","#cccccc","#cccccc","#cccccc"]},
    "legend": {"title": null, "orient": "none", "legendX": 1048, "legendY": -5, "labelFontSize": 18, "labelFont": "Liberation Sans", "labelColor": "#333333", "symbolSize": 200, "rowPadding": 7.4, "labelOffset": 10, "labelFontWeight": {"expr": "datum.value == '2024' ? 'bold' : 'normal'"}}},
  "strokeDash": {"field": "s", "type": "nominal",
    "scale": {"domain": ["1991-2020","1982-2010","Preliminary","2026","2025","2024","2023","2022","2021","2020","2019","2018","2017","2016","2015","2014","2013","2012","2011","2010","2009","2008"],
              "range": [[14,4],[6,4],[0.1,6,2,30],[1,0],[1,0],[1,0],[1,0],[1,0],[1,0],[1,0],[1,0],[1,0],[1,0],[1,0],[1,0],[1,0],[1,0],[1,0],[1,0],[1,0],[1,0],[1,0]]},
    "legend": {"title": null, "orient": "none", "legendX": 1048, "legendY": -5, "labelFontSize": 18, "labelFont": "Liberation Sans", "labelColor": "#333333", "symbolSize": 200, "rowPadding": 7.4, "labelOffset": 10, "labelFontWeight": {"expr": "datum.value == '2024' ? 'bold' : 'normal'"}}},
  "strokeWidth": {"field": "s", "type": "nominal",
    "scale": {"domain": ["1991-2020","1982-2010","Preliminary","2026","2025","2024","2023","2022","2021","2020","2019","2018","2017","2016","2015","2014","2013","2012","2011","2010","2009","2008"],
              "range": [2.5,2.5,2.5,4,1.8,1.5,1.5,1.5,1.5,1.5,1.5,1.5,1.5,1.5,1.5,1.5,1.5,1.5,1.5,1.5,1.5,1.5]},
    "legend": {"title": null, "orient": "none", "legendX": 1048, "legendY": -5, "labelFontSize": 18, "labelFont": "Liberation Sans", "labelColor": "#333333", "symbolSize": 200, "rowPadding": 7.4, "labelOffset": 10, "labelFontWeight": {"expr": "datum.value == '2024' ? 'bold' : 'normal'"}}}
 }},
{"transform": [{"filter": "datum.s == '2024'"}],
 "mark": {"type": "line", "color": "#8c8c8c", "strokeWidth": 4.5}},
{"transform": [{"filter": "datum.s == '2025'"}],
 "mark": {"type": "line", "color": "#f39c2a", "strokeWidth": 1.8}},
{"transform": [{"filter": "datum.s == '2026'"}],
 "mark": {"type": "line", "color": "#a3171c", "strokeWidth": 3.5}},
{"transform": [{"filter": "datum.s == 'Preliminary'"}],
 "mark": {"type": "circle", "color": "#c0202a", "size": 9, "opacity": 1}}
]
},
{
"width": 1027, "height": 555,
"title": {"text": "Daily Sea Surface Temperature, World (60°S–60°N, 0–360°E)", "subtitle": "Dataset: NOAA OISST V2.1 | Image Credit: ClimateReanalyzer.org, Climate Change Institute, University of Maine", "anchor": "start", "frame": "group", "dx": -14, "font": "DejaVu Sans", "fontSize": 22.7, "fontWeight": "bold", "color": "#222222", "subtitleFont": "Liberation Sans", "subtitleFontSize": 14.3, "subtitleColor": "#333333", "subtitlePadding": 11, "offset": 5},
"encoding": {
  "x": {"field": "d", "type": "quantitative", "scale": {"domain": [0, 365], "nice": false, "zero": false},
        "axis": {"title": null, "values": [0,15.5,31,45.5,59,74.5,90,105.5,120,135.5,151,166.5,181,196.5,212,227.5,243,258.5,273,288.5,304,319.5,334,349.5,365],
                 "labelExpr": "datum.value % 1 == 0 ? '' : ['Jan','Feb','Mar','Apr','May','Jun','Jul','Aug','Sep','Oct','Nov','Dec'][floor(datum.value / 30.42)]",
                 "grid": true, "gridColor": "#cccccc", "gridOpacity": {"condition": {"test": "datum.value % 1 != 0", "value": 0}, "value": 1},
                 "ticks": false, "domain": false, "labelFontSize": 17, "labelFont": "Liberation Sans", "labelColor": "#333333", "labelPadding": 9, "labelOverlap": false, "labelFlush": false}},
  "y": {"field": "t", "type": "quantitative", "scale": {"domain": [19.5, 21.5], "nice": false, "zero": false},
        "axis": {"title": "Temperature (°C)", "values": [19.5,20,20.5,21,21.5], "format": "~g", "grid": true, "gridColor": "#bdbdbd", "ticks": false, "domain": false,
                 "labelFontSize": 17, "labelFont": "Liberation Sans", "labelColor": "#333333", "labelPadding": 17,
                 "titleFontSize": 21, "titleFont": "Liberation Sans", "titleFontWeight": "normal", "titleColor": "#333333", "titlePadding": 12}}
},
"layer": [
{"transform": [{"filter": "indexof(['1991-2020','1982-2010','2025','2026','Preliminary','2023'], datum.s) < 0"}],
 "mark": {"type": "line", "color": "#c4c4c4", "strokeWidth": 1},
 "encoding": {"detail": {"field": "s"}}},
{"transform": [{"filter": "datum.s == '1991-2020' || datum.s == '1982-2010'"}],
 "mark": {"type": "line"},
 "encoding": {
  "color": {"field": "s", "type": "nominal",
    "scale": {"domain": ["1991-2020","1982-2010","Preliminary","2026","2025","2024","2023","2022","2021","2020","2019","2018","2017","2016","2015","2014","2013","2012","2011","2010","2009","2008"],
              "range": ["#222222","#222222","#c0202a","#a3171c","#f39c2a","#cccccc","#cccccc","#cccccc","#cccccc","#cccccc","#cccccc","#cccccc","#cccccc","#cccccc","#cccccc","#cccccc","#cccccc","#cccccc","#cccccc","#cccccc","#cccccc","#cccccc"]},
    "legend": {"title": null, "orient": "none", "legendX": 1048, "legendY": -5, "labelFontSize": 18, "labelFont": "Liberation Sans", "labelColor": "#333333", "symbolSize": 200, "rowPadding": 7.4, "labelOffset": 10, "labelFontWeight": {"expr": "datum.value == '2023' ? 'bold' : 'normal'"}}},
  "strokeDash": {"field": "s", "type": "nominal",
    "scale": {"domain": ["1991-2020","1982-2010","Preliminary","2026","2025","2024","2023","2022","2021","2020","2019","2018","2017","2016","2015","2014","2013","2012","2011","2010","2009","2008"],
              "range": [[14,4],[6,4],[0.1,6,2,30],[1,0],[1,0],[1,0],[1,0],[1,0],[1,0],[1,0],[1,0],[1,0],[1,0],[1,0],[1,0],[1,0],[1,0],[1,0],[1,0],[1,0],[1,0],[1,0]]},
    "legend": {"title": null, "orient": "none", "legendX": 1048, "legendY": -5, "labelFontSize": 18, "labelFont": "Liberation Sans", "labelColor": "#333333", "symbolSize": 200, "rowPadding": 7.4, "labelOffset": 10, "labelFontWeight": {"expr": "datum.value == '2023' ? 'bold' : 'normal'"}}},
  "strokeWidth": {"field": "s", "type": "nominal",
    "scale": {"domain": ["1991-2020","1982-2010","Preliminary","2026","2025","2024","2023","2022","2021","2020","2019","2018","2017","2016","2015","2014","2013","2012","2011","2010","2009","2008"],
              "range": [2.5,2.5,2.5,4,1.8,1.5,1.5,1.5,1.5,1.5,1.5,1.5,1.5,1.5,1.5,1.5,1.5,1.5,1.5,1.5,1.5,1.5]},
    "legend": {"title": null, "orient": "none", "legendX": 1048, "legendY": -5, "labelFontSize": 18, "labelFont": "Liberation Sans", "labelColor": "#333333", "symbolSize": 200, "rowPadding": 7.4, "labelOffset": 10, "labelFontWeight": {"expr": "datum.value == '2023' ? 'bold' : 'normal'"}}}
 }},
{"transform": [{"filter": "datum.s == '2023'"}],
 "mark": {"type": "line", "color": "#8c8c8c", "strokeWidth": 4.5}},
{"transform": [{"filter": "datum.s == '2025'"}],
 "mark": {"type": "line", "color": "#f39c2a", "strokeWidth": 1.8}},
{"transform": [{"filter": "datum.s == '2026'"}],
 "mark": {"type": "line", "color": "#a3171c", "strokeWidth": 3.5}},
{"transform": [{"filter": "datum.s == 'Preliminary'"}],
 "mark": {"type": "circle", "color": "#c0202a", "size": 9, "opacity": 1}}
]
}
]
}
